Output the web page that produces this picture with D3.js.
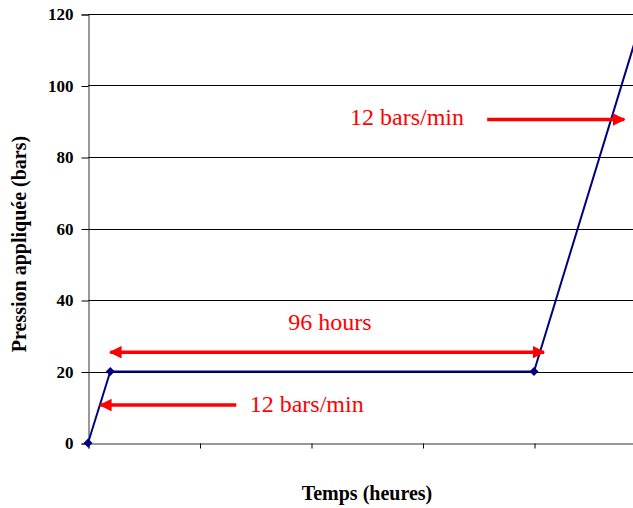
<!DOCTYPE html>
<html><head><meta charset="utf-8">
<script src="https://cdn.jsdelivr.net/npm/d3@7"></script>
<style>body{margin:0;background:#fff}svg{display:block}</style>
</head><body>
<script>
// Data
const timeValues = [0, 0.2, 4, 5];
const pressureValues = [0, 20, 20, 122];
const markerCount = 3;
const yTicks = [0, 20, 40, 60, 80, 100, 120];
const xTicks = [0, 1, 2, 3, 4, 5];
const xTitle = "Temps (heures)";
const yTitle = "Pression appliquée (bars)";
const annotations = [
  {text: "96 hours", x: 2.17, y: 31.6, anchor: "middle"},
  {text: "12 bars/min", x: 1.45, y: 8.8, anchor: "start"},
  {text: "12 bars/min", x: 2.35, y: 89.0, anchor: "start"}
];
const arrows = [
  {x1: 0.2, x2: 4.09, y: 25.4, heads: "both"},
  {x1: 1.33, x2: 0.11, y: 10.6, heads: "end"},
  {x1: 3.58, x2: 4.81, y: 90.5, heads: "end"}
];

const W = 633, H = 508;
const svg = d3.select("body").append("svg").attr("width", W).attr("height", H);
const x = d3.scaleLinear().domain([0, 5]).range([88, 645.5]);
const y = d3.scaleLinear().domain([0, 120]).range([443, 14]);
const font = "'Liberation Serif','Times New Roman',serif";

const defs = svg.append("defs");
defs.append("clipPath").attr("id", "clip").append("rect")
  .attr("x", 88).attr("y", 0).attr("width", W - 88).attr("height", 444);
["end", "start"].forEach(k => {
  defs.append("marker").attr("id", "ah-" + k)
    .attr("viewBox", "0 0 10 10").attr("refX", 9).attr("refY", 5)
    .attr("markerWidth", 3.6).attr("markerHeight", 3.6)
    .attr("orient", k === "end" ? "auto" : "auto-start-reverse")
    .append("path").attr("d", "M0,0L10,5L0,10Z").attr("fill", "#ff0000");
});

// gridlines
svg.append("g").selectAll("line").data(yTicks.filter(d => d > 0)).join("line")
  .attr("x1", 88).attr("x2", W)
  .attr("y1", d => Math.round(y(d)) + 0.5).attr("y2", d => Math.round(y(d)) + 0.5)
  .attr("stroke", "#000").attr("stroke-width", 1);

// y axis
const yAxis = svg.append("g").attr("transform", "translate(88.5,0.5)")
  .call(d3.axisLeft(y).tickValues(yTicks).tickSize(7).tickPadding(8).tickFormat(d3.format("d")));
yAxis.select(".domain").attr("stroke", "#333");
yAxis.selectAll(".tick line").attr("stroke", "#000");
yAxis.selectAll("text").attr("font-family", font).attr("font-size", 17)
  .attr("font-weight", "bold").attr("fill", "#000");

// x axis
const xAxis = svg.append("g").attr("transform", "translate(0.5,443.5)")
  .call(d3.axisBottom(x).tickValues(xTicks).tickSize(5).tickFormat(""));
xAxis.select(".domain").attr("stroke", "#333");
xAxis.selectAll(".tick line").attr("stroke", "#000");

// series
const pts = timeValues.map((t, i) => [t, pressureValues[i]]);
const g = svg.append("g").attr("clip-path", "url(#clip)");
g.append("path").datum(pts)
  .attr("d", d3.line().x(d => x(d[0])).y(d => y(d[1])))
  .attr("fill", "none").attr("stroke", "#000080").attr("stroke-width", 2);
svg.append("g").selectAll("path").data(pts.slice(0, markerCount)).join("path")
  .attr("transform", d => `translate(${x(d[0])},${y(d[1])})`)
  .attr("d", "M0,-4.5L4.5,0L0,4.5L-4.5,0Z").attr("fill", "#000080");

// arrows
svg.append("g").selectAll("line").data(arrows).join("line")
  .attr("x1", d => x(d.x1)).attr("x2", d => x(d.x2))
  .attr("y1", d => y(d.y)).attr("y2", d => y(d.y))
  .attr("stroke", "#ff0000").attr("stroke-width", 3.5)
  .attr("marker-end", "url(#ah-end)")
  .attr("marker-start", d => d.heads === "both" ? "url(#ah-start)" : null);

// annotation text
svg.append("g").selectAll("text").data(annotations).join("text")
  .attr("x", d => x(d.x)).attr("y", d => y(d.y))
  .attr("text-anchor", d => d.anchor)
  .attr("font-family", font).attr("font-size", 24).attr("fill", "#ff0000")
  .text(d => d.text);

// titles
svg.append("text").attr("x", 367).attr("y", 500).attr("text-anchor", "middle")
  .attr("font-family", font).attr("font-size", 20).attr("font-weight", "bold")
  .text(xTitle);
svg.append("text").attr("transform", "translate(26,244) rotate(-90)")
  .attr("text-anchor", "middle")
  .attr("font-family", font).attr("font-size", 20).attr("font-weight", "bold")
  .text(yTitle);
</script>
</body></html>
